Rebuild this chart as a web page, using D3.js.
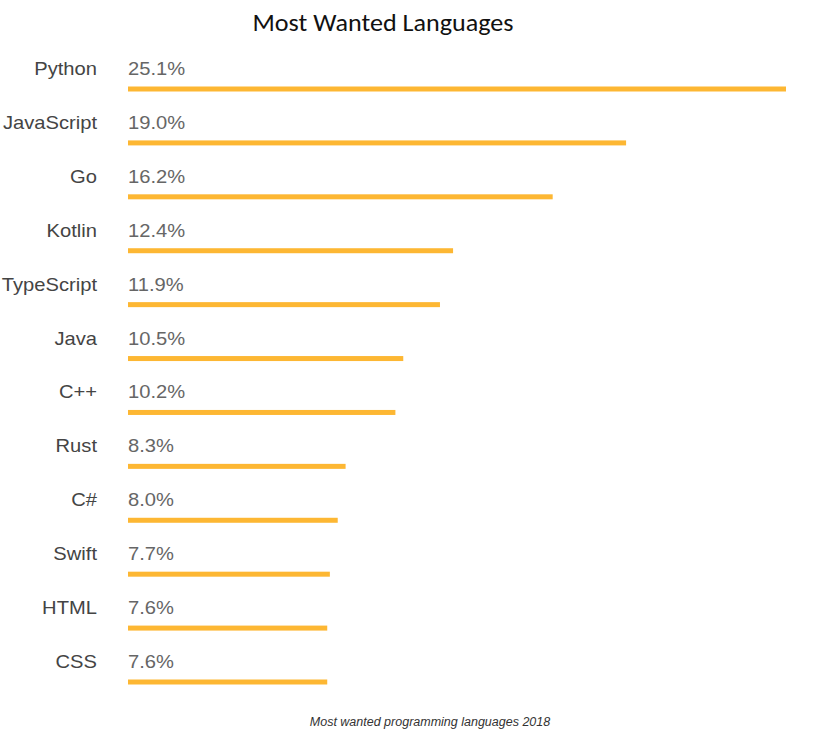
<!DOCTYPE html>
<html><head><meta charset="utf-8">
<script src="https://cdn.jsdelivr.net/npm/d3@7"></script>
<style>body{margin:0;background:#fff}</style>
</head><body>
<script>
const categories = ["Python","JavaScript","Go","Kotlin","TypeScript","Java","C++","Rust","C#","Swift","HTML","CSS"];
const values = [25.1,19.0,16.2,12.4,11.9,10.5,10.2,8.3,8.0,7.7,7.6,7.6];
const title = "Most Wanted Languages";
const caption = "Most wanted programming languages 2018";

const W = 813, H = 749;
const svg = d3.select("body").append("svg").attr("width", W).attr("height", H);
const sans = "Arial, 'Liberation Sans', Arimo, Helvetica, sans-serif";
const sx = 1.12;

const x = d3.scaleLinear().domain([0, 25.1]).range([128, 786]);
const y = d3.scalePoint().domain(categories).range([89, 682]);

svg.append("text").attr("transform", "translate(383,31) scale(1.045,1)").attr("text-anchor", "middle")
  .attr("font-family", "Carlito, Lato, 'Open Sans', sans-serif").attr("font-size", 25)
  .attr("fill", "#111").text(title);

const data = categories.map((c, i) => ({c, v: values[i]}));
const g = svg.append("g");
g.selectAll("rect.bar").data(data).join("rect").attr("class", "bar")
  .attr("x", x(0)).attr("y", d => y(d.c) - 2.5)
  .attr("width", d => x(d.v) - x(0)).attr("height", 5)
  .attr("fill", "#FDB733");
g.selectAll("text.lab").data(data).join("text").attr("class", "lab")
  .attr("transform", d => `translate(97,${y(d.c) - 14}) scale(${sx},1)`).attr("text-anchor", "end")
  .attr("font-family", sans).attr("font-size", 18)
  .attr("fill", "#444").text(d => d.c);
g.selectAll("text.val").data(data).join("text").attr("class", "val")
  .attr("transform", d => `translate(128,${y(d.c) - 14}) scale(${sx},1)`)
  .attr("font-family", sans).attr("font-size", 18)
  .attr("fill", "#666").text(d => d.v.toFixed(1) + "%");

svg.append("text").attr("x", 430).attr("y", 726).attr("text-anchor", "middle")
  .attr("font-family", sans).attr("font-size", 12.5)
  .attr("font-style", "italic").attr("fill", "#333").text(caption);
</script>
</body></html>
